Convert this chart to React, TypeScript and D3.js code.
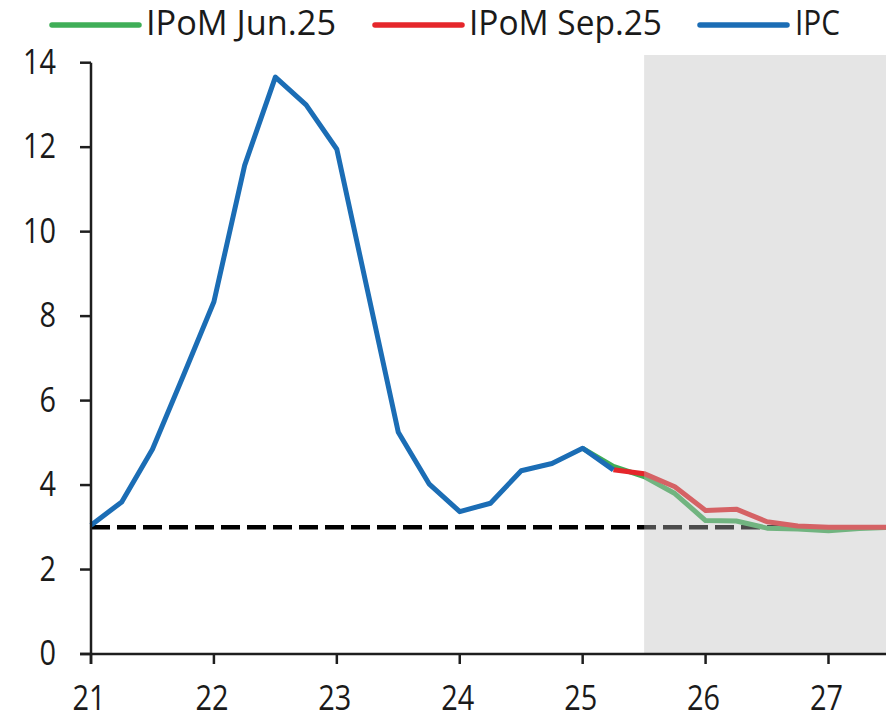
import React from "react";
import * as d3 from "d3";

const ipcQuarters = [21, 21.25, 21.5, 21.75, 22, 22.25, 22.5, 22.75, 23, 23.25, 23.5, 23.75, 24, 24.25, 24.5, 24.75, 25, 25.25];
const ipcValues = [3.05, 3.6, 4.85, 6.58, 8.34, 11.57, 13.66, 13.0, 11.95, 8.6, 5.25, 4.03, 3.37, 3.57, 4.34, 4.51, 4.87, 4.36];

const junQuarters = [25, 25.25, 25.5, 25.75, 26, 26.25, 26.5, 26.75, 27, 27.25, 27.5, 27.75];
const junValues = [4.87, 4.44, 4.2, 3.8, 3.16, 3.15, 2.98, 2.96, 2.92, 2.97, 3.0, 3.0];

const sepQuarters = [25.25, 25.5, 25.75, 26, 26.25, 26.5, 26.75, 27, 27.25, 27.5, 27.75];
const sepValues = [4.36, 4.27, 3.96, 3.4, 3.43, 3.13, 3.03, 3.0, 3.0, 3.0, 3.0];

const targetValue = 3;
const forecastStart = 25.5;

const xTicks = [21, 22, 23, 24, 25, 26, 27];
const yTicks = [0, 2, 4, 6, 8, 10, 12, 14];

const legendItems = [
  { label: "IPoM Jun.25", color: "#3fae57", x0: 52, x1: 139, tx: 146, tl: 190 },
  { label: "IPoM Sep.25", color: "#e5262b", x0: 375, x1: 462, tx: 469, tl: 193 },
  { label: "IPC", color: "#1b6db5", x0: 700, x1: 787, tx: 795, tl: 45 },
];

const W = 886;
const H = 714;
const FONT = "'Open Sans', 'DejaVu Sans', sans-serif";

export default function App() {
  const x = d3.scaleLinear().domain([21, 27]).range([91, 828.5]);
  const y = d3.scaleLinear().domain([0, 14]).range([654, 62.7]);
  const line = d3
    .line<[number, number]>()
    .x((d) => x(d[0]))
    .y((d) => y(d[1]));

  const ipc = ipcQuarters.map((q, i) => [q, ipcValues[i]] as [number, number]);
  const jun = junQuarters.map((q, i) => [q, junValues[i]] as [number, number]);
  const sep = sepQuarters.map((q, i) => [q, sepValues[i]] as [number, number]);

  const axisColor = "#1e1e1e";
  const textColor = "#1a1a1a";

  return (
    <svg
      width={W}
      height={H}
      style={{ position: "absolute", left: 0, top: 0, background: "#fff" }}
    >
      {/* target dashed line */}
      <line
        x1={x(21)}
        x2={W + 10}
        y1={y(targetValue)}
        y2={y(targetValue)}
        stroke="#000"
        strokeWidth={4.5}
        strokeDasharray="19 7"
      />
      {/* series */}
      <path d={line(jun) || ""} fill="none" stroke="#3fae57" strokeWidth={5} strokeLinejoin="round" />
      <path d={line(sep) || ""} fill="none" stroke="#e5262b" strokeWidth={5} strokeLinejoin="round" />
      <path d={line(ipc) || ""} fill="none" stroke="#1b6db5" strokeWidth={5} strokeLinejoin="round" />

      {/* forecast shading overlay */}
      <rect
        x={x(forecastStart)}
        y={55}
        width={W - x(forecastStart) + 10}
        height={y(0) - 55}
        fill="rgb(190,190,190)"
        fillOpacity={0.4}
      />

      {/* y axis */}
      <line x1={x(21)} x2={x(21)} y1={y(14)} y2={y(0) + 10} stroke={axisColor} strokeWidth={2.5} />
      {yTicks.map((t) => (
        <g key={"y" + t}>
          <line x1={x(21) - 11} x2={x(21)} y1={y(t)} y2={y(t)} stroke={axisColor} strokeWidth={2.5} />
          <text
            x={56}
            y={y(t) + 11}
            textAnchor="end"
            fontFamily={FONT}
            fontSize={35}
            fill={textColor}
            textLength={String(t).length * 16.5}
            lengthAdjust="spacingAndGlyphs"
          >
            {t}
          </text>
        </g>
      ))}

      {/* x axis */}
      <line x1={x(21) - 11} x2={W + 10} y1={y(0)} y2={y(0)} stroke={axisColor} strokeWidth={2.5} />
      {xTicks.map((t) => (
        <g key={"x" + t}>
          <line x1={x(t)} x2={x(t)} y1={y(0)} y2={y(0) + 10} stroke={axisColor} strokeWidth={2.5} />
          <text
            x={x(t) - 2}
            y={710}
            textAnchor="middle"
            fontFamily={FONT}
            fontSize={35}
            fill={textColor}
            textLength={33}
            lengthAdjust="spacingAndGlyphs"
          >
            {t}
          </text>
        </g>
      ))}

      {/* legend */}
      {legendItems.map((it) => (
        <g key={it.label}>
          <line
            x1={it.x0}
            x2={it.x1}
            y1={25}
            y2={25}
            stroke={it.color}
            strokeWidth={5.5}
            strokeLinecap="round"
          />
          <text
            x={it.tx}
            y={35}
            fontFamily={FONT}
            fontSize={35}
            fill={textColor}
            textLength={it.tl}
            lengthAdjust="spacingAndGlyphs"
          >
            {it.label}
          </text>
        </g>
      ))}
    </svg>
  );
}
